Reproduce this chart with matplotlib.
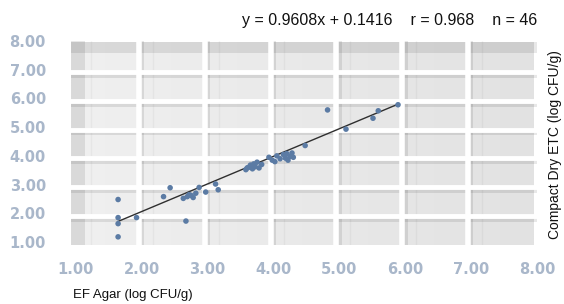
import numpy as np
import matplotlib
matplotlib.use("Agg")
import matplotlib.pyplot as plt
from matplotlib.colors import LinearSegmentedColormap

# ---- data ----
ef_agar = [1.64, 1.64, 1.64, 1.64, 1.92, 2.33, 2.43, 2.67, 2.63, 2.69,
           2.75, 2.78, 2.82, 2.87, 2.97, 3.12, 3.16, 3.58, 3.62, 3.65,
           3.68, 3.70, 3.72, 3.75, 3.78, 3.82, 3.93, 3.98, 4.02, 4.10,
           4.15, 4.18, 4.20, 4.22, 4.25, 4.28, 4.30, 4.48, 4.82, 5.10,
           5.51, 5.59, 5.89, 3.60, 2.72, 4.05]
compact_dry = [2.48, 1.85, 1.64, 1.18, 1.85, 2.58, 2.89, 1.73, 2.52, 2.58,
               2.62, 2.55, 2.70, 2.90, 2.74, 3.02, 2.82, 3.52, 3.60, 3.68,
               3.55, 3.72, 3.62, 3.78, 3.58, 3.70, 3.95, 3.85, 3.80, 3.90,
               4.05, 3.92, 4.08, 3.85, 3.98, 4.10, 3.95, 4.36, 5.60, 4.93,
               5.31, 5.57, 5.78, 3.58, 2.65, 4.00]
slope = 0.9608
intercept = 0.1416
r_value = 0.968
n_value = 46
ticks = [1, 2, 3, 4, 5, 6, 7, 8]
tick_labels = ["1.00", "2.00", "3.00", "4.00", "5.00", "6.00", "7.00", "8.00"]

W, H = 564, 304
fig = plt.figure(figsize=(W / 100, H / 100), dpi=100)
L, R, T, B = 71, 537, 41, 245
ax = fig.add_axes([L / W, 1 - B / H, (R - L) / W, (B - T) / H])

xlim = (0.925, 7.953)
ylim = (0.896, 7.955)
ax.set_xlim(*xlim)
ax.set_ylim(*ylim)

# background gradient
cmap = LinearSegmentedColormap.from_list("bg", ["#f0f0f0", "#e2e2e2"])
grad = np.linspace(0, 1, 256).reshape(1, -1)
ax.imshow(grad, extent=[xlim[0], xlim[1], ylim[0], ylim[1]], cmap=cmap,
          aspect="auto", zorder=0, origin="lower")

# decorative bands
dark = dict(color="black", alpha=0.09, lw=0, zorder=1)
ax.axhspan(7.57, ylim[1], **dark)
ax.axvspan(xlim[0], 1.135, **dark)
xg = [n - 0.045 for n in range(2, 8)]
yg = [n - 0.09 for n in range(2, 8)]
for g in xg:
    ax.axvspan(g, g + 0.08, **dark)
    ax.axvline(g + 0.21, color="black", alpha=0.035, lw=1, zorder=1)
for g in yg:
    ax.axhspan(g - 0.2, g, **dark)
for g in xg:
    ax.axvline(g, color="white", lw=4, zorder=2)
for g in yg:
    ax.axhline(g, color="white", lw=3.5, zorder=2)
ax.axvline(1.135 + 0.1, color="black", alpha=0.035, lw=1, zorder=1)

# regression line
xl = np.array([min(ef_agar), max(ef_agar)])
ax.plot(xl, slope * xl + intercept, color="#2f2f2f", lw=1.0, zorder=3)

# points
ax.scatter(ef_agar, compact_dry, s=16, marker="o", color="#5b7ba4",
           edgecolors="none", zorder=4)

for s in ax.spines.values():
    s.set_visible(False)
ax.set_xticks(ticks)
ax.set_yticks(ticks)
tick_font = dict(family="DejaVu Sans", weight="bold", size=10.5)
ax.set_xticklabels(tick_labels, color="#a9b7ca", **tick_font)
ax.set_yticklabels(tick_labels, color="#a9b7ca", **tick_font)
ax.tick_params(axis="x", length=0, pad=12)
ax.tick_params(axis="y", length=0, pad=18)

lab_font = dict(family="Liberation Sans")
fig.text(R / W, 1 - 20 / H,
         f"y = {slope:.4f}x + {intercept:.4f}    r = {r_value:.3f}    n = {n_value}",
         ha="right", va="center", fontsize=11.5, color="#111111", **lab_font)
fig.text(73 / W, 1 - 295 / H, "EF Agar (log CFU/g)", ha="left", va="center",
         fontsize=9.5, color="#111111", **lab_font)
fig.text(555 / W, 1 - 145 / H, "Compact Dry ETC (log CFU/g)", rotation=90,
         ha="center", va="center", fontsize=10, color="#111111", **lab_font)

fig.savefig("out.png", dpi=100, facecolor="white")
